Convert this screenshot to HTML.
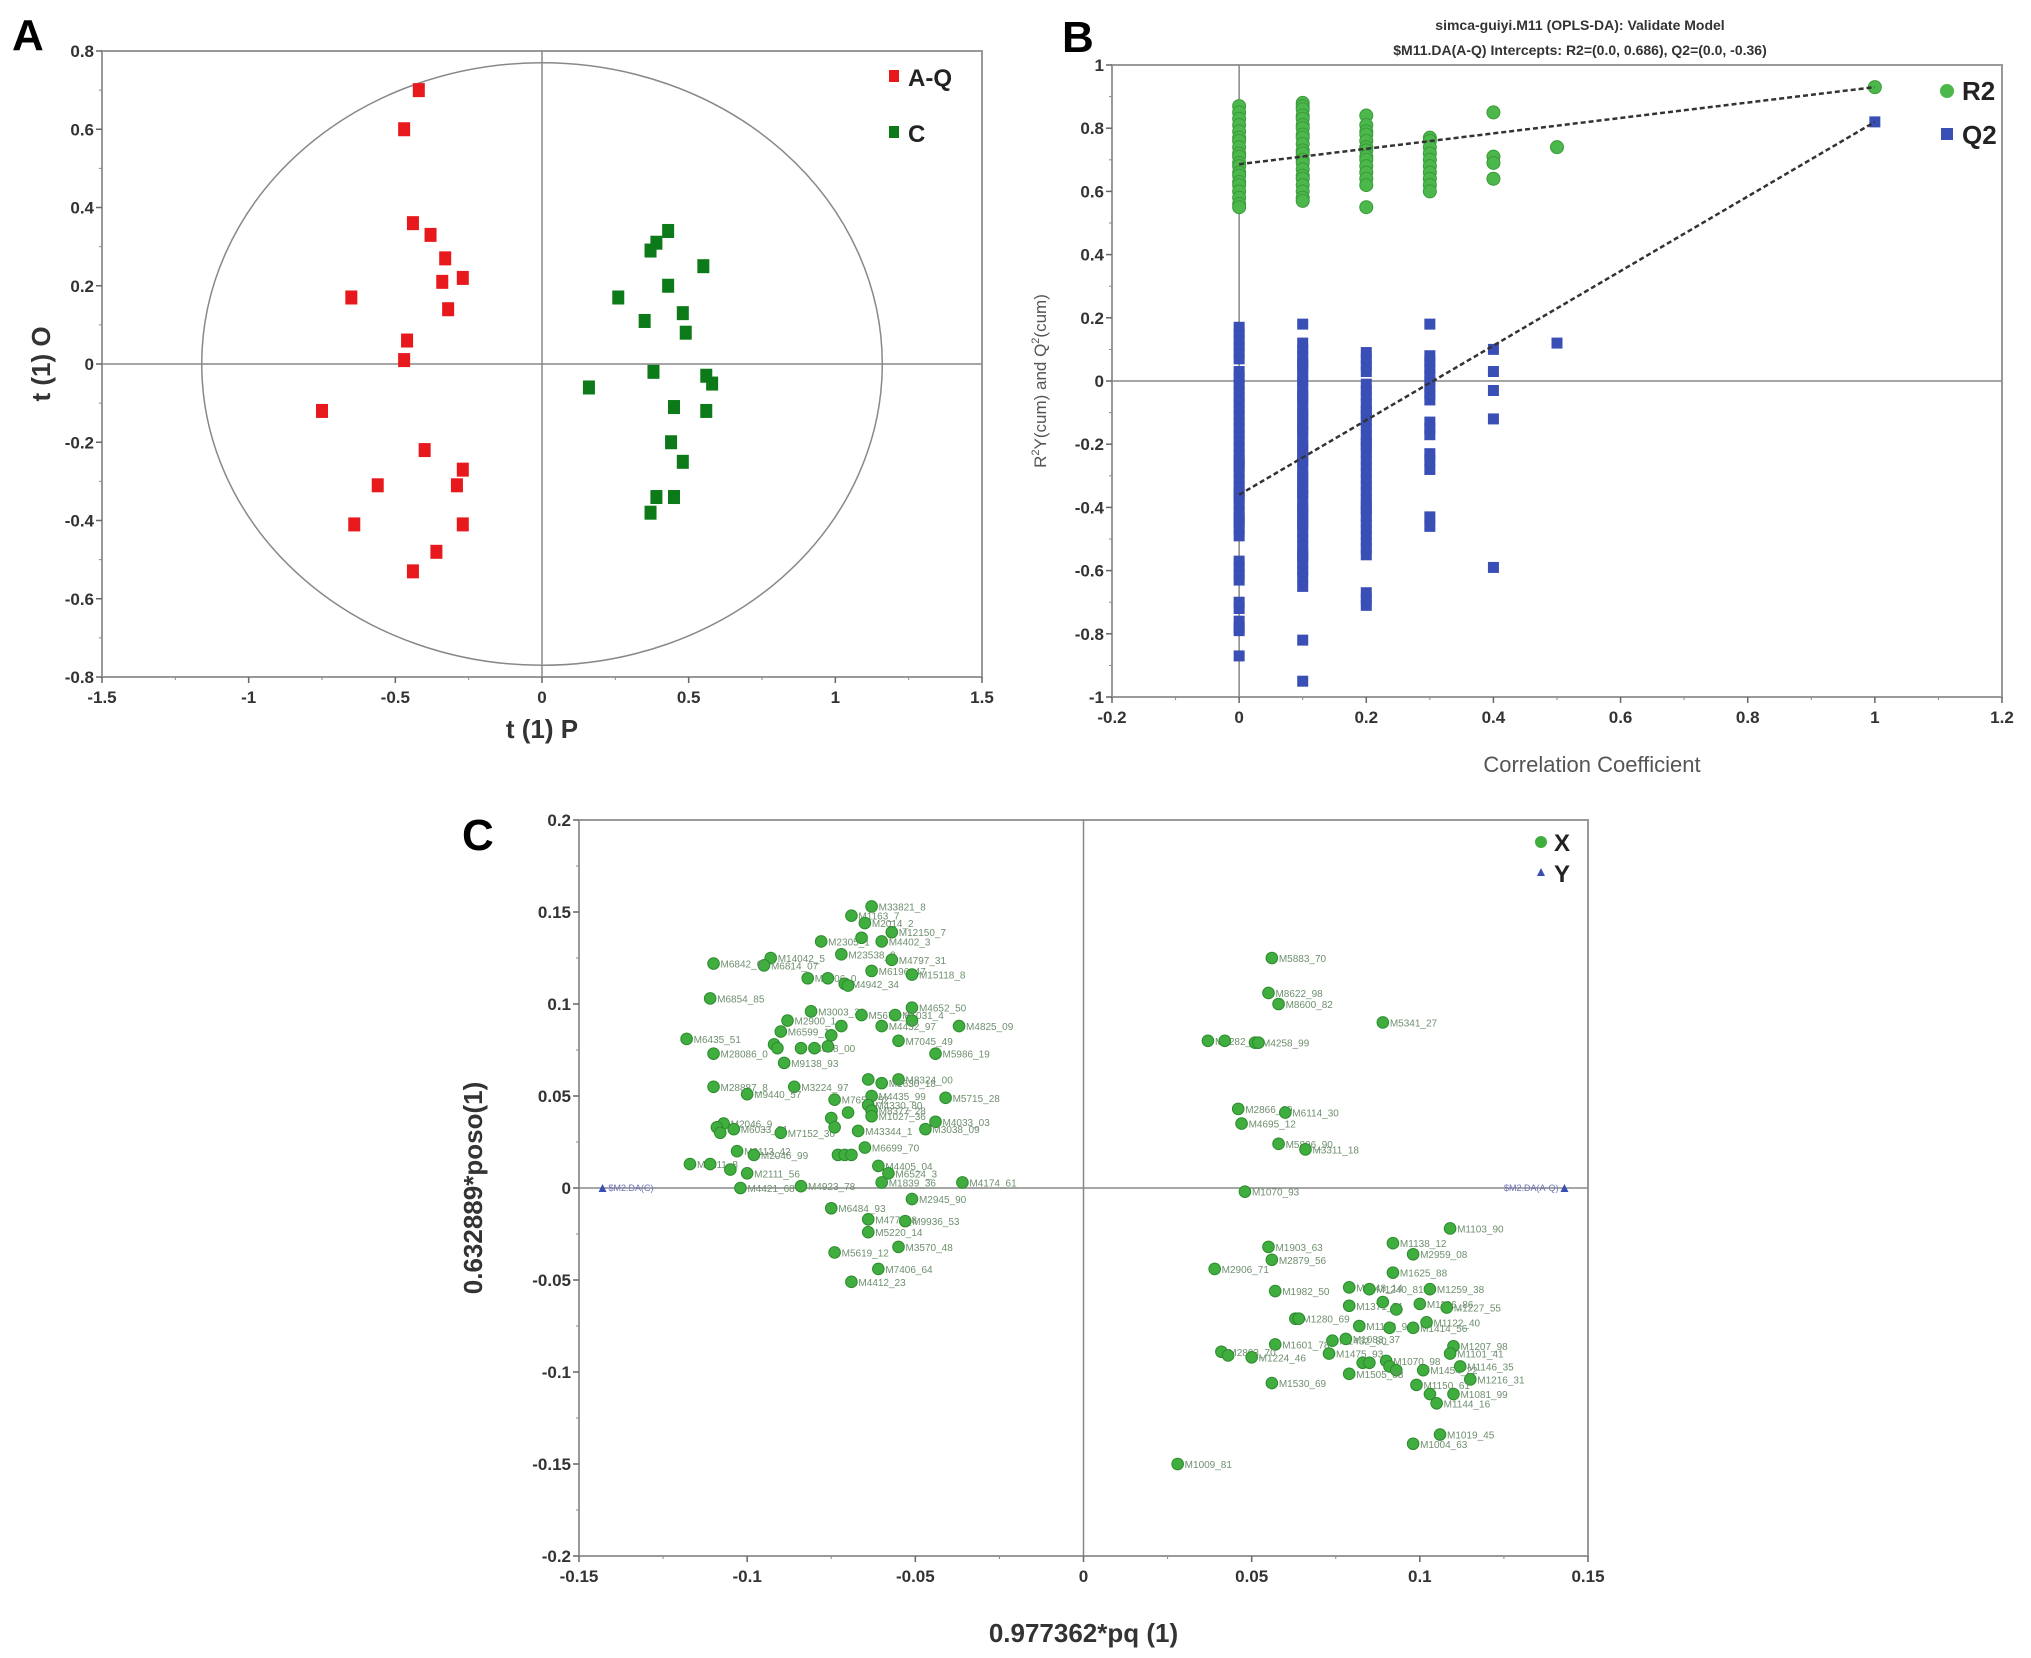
<!DOCTYPE html>
<html><head><meta charset="utf-8">
<style>
html,body{margin:0;padding:0;background:#fff;}
svg{display:block;font-family:"Liberation Sans",sans-serif;}
.tk{font-size:17px;font-weight:bold;fill:#333;}
.lbl{font-size:10px;fill:#6f8f6f;}
</style></head>
<body>
<svg id="root" width="2031" height="1658" viewBox="0 0 2031 1658">
  <text x="12" y="50" font-size="44" font-weight="bold">A</text>
  <text x="1062" y="52" font-size="44" font-weight="bold">B</text>
  <text x="462" y="850" font-size="44" font-weight="bold">C</text>
  <g id="pa"></g>
  <g id="pb"></g>
  <g id="pc"></g>
</svg>
<script>
// ---------- Panel A data ----------
const aqX = [-0.42,-0.47,-0.44,-0.38,-0.33,-0.27,-0.34,-0.65,-0.32,-0.46,-0.47,-0.75,-0.40,-0.27,-0.29,-0.56,-0.64,-0.27,-0.36,-0.44];
const aqY = [0.70,0.60,0.36,0.33,0.27,0.22,0.21,0.17,0.14,0.06,0.01,-0.12,-0.22,-0.27,-0.31,-0.31,-0.41,-0.41,-0.48,-0.53];
const cX = [0.43,0.39,0.37,0.55,0.43,0.26,0.48,0.35,0.49,0.16,0.38,0.56,0.58,0.45,0.56,0.44,0.48,0.39,0.45,0.37];
const cY = [0.34,0.31,0.29,0.25,0.20,0.17,0.13,0.11,0.08,-0.06,-0.02,-0.03,-0.05,-0.11,-0.12,-0.20,-0.25,-0.34,-0.34,-0.38];
const aXTicks = [-1.5,-1,-0.5,0,0.5,1,1.5];
const aYTicks = [0.8,0.6,0.4,0.2,0,-0.2,-0.4,-0.6,-0.8];
const aEllipse = [1.16,0.77];

// ---------- Panel B data ----------
const r2Perm = [0,0,0,0,0,0,0,0,0,0,0,0,0,0,0,0,0,0,0,0,0.1,0.1,0.1,0.1,0.1,0.1,0.1,0.1,0.1,0.1,0.1,0.1,0.1,0.1,0.1,0.1,0.1,0.1,0.1,0.1,0.1,0.2,0.2,0.2,0.2,0.2,0.2,0.2,0.2,0.2,0.2,0.2,0.2,0.2,0.2,0.3,0.3,0.3,0.3,0.3,0.3,0.3,0.3,0.3,0.3,0.4,0.4,0.4,0.4,0.5,1];
const r2Val = [0.87,0.85,0.83,0.81,0.79,0.77,0.76,0.74,0.72,0.71,0.69,0.68,0.66,0.65,0.63,0.62,0.60,0.58,0.56,0.55,0.88,0.87,0.86,0.84,0.83,0.81,0.80,0.78,0.77,0.75,0.73,0.72,0.70,0.69,0.67,0.65,0.64,0.62,0.60,0.58,0.57,0.84,0.81,0.79,0.78,0.76,0.74,0.73,0.71,0.70,0.68,0.66,0.64,0.62,0.55,0.77,0.76,0.74,0.72,0.70,0.68,0.66,0.64,0.62,0.60,0.85,0.71,0.69,0.64,0.74,0.93];
const q2Perm = [0,0,0,0,0,0,0,0,0,0,0,0,0,0,0,0,0,0,0,0,0,0,0,0,0,0,0,0,0,0,0,0,0,0,0,0,0,0,0,0,0,0,0,0,0,0,
 0.1,0.1,0.1,0.1,0.1,0.1,0.1,0.1,0.1,0.1,0.1,0.1,0.1,0.1,0.1,0.1,0.1,0.1,0.1,0.1,0.1,0.1,0.1,0.1,0.1,0.1,0.1,0.1,0.1,0.1,0.1,0.1,0.1,0.1,0.1,0.1,0.1,0.1,0.1,0.1,0.1,0.1,0.1,0.1,0.1,0.1,0.1,0.1,0.1,0.1,0.1,0.1,0.1,
 0.2,0.2,0.2,0.2,0.2,0.2,0.2,0.2,0.2,0.2,0.2,0.2,0.2,0.2,0.2,0.2,0.2,0.2,0.2,0.2,0.2,0.2,0.2,0.2,0.2,0.2,0.2,0.2,0.2,0.2,0.2,0.2,0.2,0.2,0.2,0.2,0.2,0.2,
 0.3,0.3,0.3,0.3,0.3,0.3,0.3,0.3,0.3,0.3,0.3,0.3,0.3,0.3,0.3,0.3,0.3,0.4,0.4,0.4,0.4,0.4,0.5,1];
const q2Val = [0.17,0.15,0.13,0.11,0.09,0.07,0.03,0.01,-0.01,-0.03,-0.05,-0.07,-0.09,-0.11,-0.13,-0.15,-0.19,-0.21,-0.23,-0.25,-0.27,-0.29,-0.31,-0.33,-0.35,-0.37,-0.39,-0.41,-0.43,-0.45,-0.47,-0.49,-0.57,-0.59,-0.61,-0.63,-0.70,-0.72,-0.76,-0.78,-0.79,-0.87,-0.44,-0.36,-0.26,-0.17,
 0.18,0.12,0.10,0.08,0.06,0.04,0.02,0.00,-0.02,-0.04,-0.06,-0.08,-0.10,-0.12,-0.14,-0.16,-0.18,-0.20,-0.22,-0.24,-0.26,-0.28,-0.30,-0.32,-0.34,-0.36,-0.38,-0.40,-0.42,-0.44,-0.46,-0.48,-0.50,-0.52,-0.54,-0.56,-0.58,-0.60,-0.62,-0.65,-0.82,-0.95,-0.25,-0.15,-0.05,0.05,-0.35,-0.45,-0.55,-0.41,-0.31,-0.21,-0.11,
 0.09,0.05,0.03,-0.01,-0.03,-0.05,-0.07,-0.09,-0.11,-0.13,-0.15,-0.17,-0.19,-0.21,-0.23,-0.25,-0.29,-0.31,-0.33,-0.35,-0.37,-0.39,-0.41,-0.43,-0.45,-0.47,-0.49,-0.51,-0.55,-0.67,-0.69,-0.71,-0.27,-0.20,-0.10,-0.40,-0.53,0.07,
 0.18,0.08,0.06,0.04,0.02,0.00,-0.02,-0.04,-0.06,-0.13,-0.15,-0.17,-0.23,-0.25,-0.28,-0.43,-0.46,0.10,0.03,-0.03,-0.12,-0.59,0.12,0.82];
const bFit = [[0,0.686,1,0.93],[0,-0.36,1,0.82]];
const bXTicks = [-0.2,0,0.2,0.4,0.6,0.8,1,1.2];
const bYTicks = [1,0.8,0.6,0.4,0.2,0,-0.2,-0.4,-0.6,-0.8,-1];

// ---------- Panel C data ----------
const cLoadX = [-0.063,-0.069,-0.065,-0.057,-0.060,-0.078,-0.066,-0.072,-0.057,-0.093,-0.095,-0.110,-0.063,-0.051,-0.082,-0.076,-0.071,-0.070,-0.111,-0.051,-0.081,-0.066,-0.056,-0.051,-0.088,-0.037,-0.072,-0.060,-0.090,-0.075,-0.118,-0.055,-0.092,-0.084,-0.080,-0.091,-0.076,-0.110,-0.044,-0.089,-0.064,-0.055,-0.060,-0.110,-0.086,-0.100,-0.063,-0.074,-0.041,-0.064,-0.063,-0.070,-0.063,-0.044,-0.107,-0.075,-0.109,-0.104,-0.108,-0.090,-0.067,-0.047,-0.074,-0.103,-0.098,-0.065,-0.073,-0.071,-0.069,-0.117,-0.111,-0.105,-0.100,-0.061,-0.058,-0.060,-0.036,-0.084,-0.102,-0.051,-0.075,-0.064,-0.053,-0.064,-0.074,-0.055,-0.061,-0.069,
 0.056,0.055,0.058,0.089,0.037,0.042,0.051,0.052,0.046,0.060,0.047,0.058,0.066,0.048,0.109,0.092,0.098,0.055,0.056,0.039,0.092,0.079,0.085,0.103,0.057,0.079,0.089,0.100,0.093,0.108,0.063,0.064,0.082,0.091,0.098,0.102,0.074,0.078,0.057,0.110,0.109,0.041,0.043,0.050,0.073,0.083,0.085,0.090,0.091,0.093,0.101,0.112,0.079,0.115,0.056,0.099,0.103,0.110,0.105,0.106,0.098,0.028];
const cLoadY = [0.153,0.148,0.144,0.139,0.134,0.134,0.136,0.127,0.124,0.125,0.121,0.122,0.118,0.116,0.114,0.114,0.111,0.110,0.103,0.098,0.096,0.094,0.094,0.091,0.091,0.088,0.088,0.088,0.085,0.083,0.081,0.080,0.078,0.076,0.076,0.076,0.077,0.073,0.073,0.068,0.059,0.059,0.057,0.055,0.055,0.051,0.050,0.048,0.049,0.045,0.042,0.041,0.039,0.036,0.035,0.038,0.033,0.032,0.030,0.030,0.031,0.032,0.033,0.020,0.018,0.022,0.018,0.018,0.018,0.013,0.013,0.010,0.008,0.012,0.008,0.003,0.003,0.001,0.000,-0.006,-0.011,-0.017,-0.018,-0.024,-0.035,-0.032,-0.044,-0.051,
 0.125,0.106,0.100,0.090,0.080,0.080,0.079,0.079,0.043,0.041,0.035,0.024,0.021,-0.002,-0.022,-0.030,-0.036,-0.032,-0.039,-0.044,-0.046,-0.054,-0.055,-0.055,-0.056,-0.064,-0.062,-0.063,-0.066,-0.065,-0.071,-0.071,-0.075,-0.076,-0.076,-0.073,-0.083,-0.082,-0.085,-0.086,-0.090,-0.089,-0.091,-0.092,-0.090,-0.095,-0.095,-0.094,-0.097,-0.099,-0.099,-0.097,-0.101,-0.104,-0.106,-0.107,-0.112,-0.112,-0.117,-0.134,-0.139,-0.150];
const cLoadLab = ["M33821_8","M1163_7","M2014_2","M12150_7","M4402_3","M2305_1","","M23538_8","M4797_31","M14042_5","M6814_07","M6842_6","M6196_47","M15118_8","M2906_0","","M4942_34","","M6854_85","M4652_50","M3003_31","M5676_8","M1031_4","","M2900_1","M4825_09","","M4432_97","M6599_1","","M6435_51","M7045_49","","M4628_00","","","","M28086_0","M5986_19","M9138_93","","M8324_00","M1630_18","M28887_8","M3224_97","M9440_57","M4435_99","M7651_52","M5715_28","M4330_80","M8377_28","","M1027_36","M4033_03","M2046_9","","","M6033_81","","M7152_30","M43344_1","M3038_09","","M6113_42","M2046_99","M6699_70","","","","M4211_8","","","M2111_56","M4405_04","M6524_3","M1839_36","M4174_61","M4923_78","M4421_68","M2945_90","M6484_93","M4778_8","M9936_53","M5220_14","M5619_12","M3570_48","M7406_64","M4412_23",
 "M5883_70","M8622_98","M8600_82","M5341_27","M1282_32","","M4258_99","","M2866_09","M6114_30","M4695_12","M5806_90","M3311_18","M1070_93","M1103_90","M1138_12","M2959_08","M1903_63","M2879_56","M2906_71","M1625_88","M1148_14","M1240_81","M1259_38","M1982_50","M1371_71","","M1186_86","","M1227_55","M1280_69","","M1103_96","","M1414_56","M1122_40","M1432_80","M1083_37","M1601_78","M1207_98","M1101_41","M2803_70","","M1224_46","M1475_93","","","M1070_98","","","M1454_22","M1146_35","M1505_83","M1216_31","M1530_69","M1150_61","","M1081_99","M1144_16","M1019_45","M1004_63","M1009_81"];
const cYVarX = [-0.143,0.143];
const cYVarY = [0,0];
const cYVarLab = ["$M2.DA(C)","$M2.DA(A-Q)"];
const cXTicks = [-0.15,-0.1,-0.05,0,0.05,0.1,0.15];
const cYTicks = [0.2,0.15,0.1,0.05,0,-0.05,-0.1,-0.15,-0.2];

const NS = "http://www.w3.org/2000/svg";
function mk(parent, tag, attrs, text){
  const e = document.createElementNS(NS, tag);
  for (const k in attrs) e.setAttribute(k, attrs[k]);
  if (text !== undefined) e.textContent = text;
  parent.appendChild(e);
  return e;
}
function lin(d0,d1,r0,r1){ return v => r0 + (v-d0)/(d1-d0)*(r1-r0); }

function frame(g, L, T, R, B, sx, sy, xt, yt, xdec, ydec){
  const box = mk(g,'rect',{x:L,y:T,width:R-L,height:B-T,fill:'none',stroke:'#999','stroke-width':2});
  
  
  const zx = mk(g,'line',{x1:sx(0),x2:sx(0),y1:T,y2:B,stroke:'#888','stroke-width':1.5});
  
  
  const zy = mk(g,'line',{x1:L,x2:R,y1:sy(0),y2:sy(0),stroke:'#888','stroke-width':1.5});
  
  
  xt.forEach((v,i)=>{
    const x=sx(v);
    mk(g,'line',{x1:x,x2:x,y1:B,y2:B+6,stroke:'#666','stroke-width':1.5});
    if(i<xt.length-1){ const xm=sx(v+(xt[1]-xt[0])/2); mk(g,'line',{x1:xm,x2:xm,y1:B,y2:B+3,stroke:'#888'}); }
    const t=mk(g,'text',{x:x,y:B+26,'text-anchor':'middle','class':'tk'},String(v));
    
    
  });
  yt.forEach((v,i)=>{
    const y=sy(v);
    mk(g,'line',{x1:L-6,x2:L,y1:y,y2:y,stroke:'#666','stroke-width':1.5});
    if(i<yt.length-1){ const ym=sy(v+(yt[1]-yt[0])/2); mk(g,'line',{x1:L-3,x2:L,y1:ym,y2:ym,stroke:'#888'}); }
    const t=mk(g,'text',{x:L-8,y:y+6,'text-anchor':'end','class':'tk'},String(v));
    
    
  });
}

// ---------- Panel A ----------
(function(){
  const g=document.getElementById('pa');
  const L=102,R=982,T=51,B=677;
  const sx=lin(-1.5,1.5,L,R), sy=lin(0.8,-0.8,T,B);
  frame(g,L,T,R,B,sx,sy,aXTicks,aYTicks);
  const el=mk(g,'ellipse',{cx:sx(0),cy:sy(0),rx:sx(aEllipse[0])-sx(0),ry:sy(0)-sy(aEllipse[1]),fill:'none',stroke:'#888','stroke-width':1.5});
  
  
  aqX.forEach((v,i)=>{
    const r=mk(g,'rect',{x:sx(v)-6,y:sy(aqY[i])-7,width:12,height:14,fill:'#e8191c'});
    
    
  });
  cX.forEach((v,i)=>{
    const r=mk(g,'rect',{x:sx(v)-6,y:sy(cY[i])-7,width:12,height:14,fill:'#0d7a1a'});
    
    
  });
  mk(g,'rect',{x:889,y:70,width:10,height:12,fill:'#e8191c',});
  mk(g,'text',{x:908,y:86,'font-size':24,'font-weight':'bold',fill:'#222',},'A-Q');
  mk(g,'rect',{x:889,y:126,width:10,height:12,fill:'#0d7a1a',});
  mk(g,'text',{x:908,y:142,'font-size':24,'font-weight':'bold',fill:'#222',},'C');
  mk(g,'text',{x:(L+R)/2,y:738,'text-anchor':'middle','font-size':26,'font-weight':'bold',fill:'#333',},'t (1) P');
  mk(g,'text',{x:0,y:0,transform:'translate(50,'+((T+B)/2)+') rotate(-90)','text-anchor':'middle','font-size':26,'font-weight':'bold',fill:'#333',},'t (1) O');
})();

// ---------- Panel B ----------
(function(){
  const g=document.getElementById('pb');
  const L=1112,R=2002,T=65,B=697;
  const sx=lin(-0.2,1.2,L,R), sy=lin(1,-1,T,B);
  frame(g,L,T,R,B,sx,sy,bXTicks,bYTicks);
  mk(g,'text',{x:1580,y:30,'text-anchor':'middle','font-size':14,'font-weight':'bold',fill:'#333',},'simca-guiyi.M11 (OPLS-DA): Validate Model');
  mk(g,'text',{x:1580,y:55,'text-anchor':'middle','font-size':14,'font-weight':'bold',fill:'#333',},'$M11.DA(A-Q) Intercepts: R2=(0.0, 0.686), Q2=(0.0, -0.36)');
  r2Perm.forEach((v,i)=>{
    const c=mk(g,'circle',{cx:sx(v),cy:sy(r2Val[i]),r:6.5,fill:'#4cb84c',stroke:'#3a9a3a','stroke-width':1});
    
    
  });
  q2Perm.forEach((v,i)=>{
    const r=mk(g,'rect',{x:sx(v)-5.5,y:sy(q2Val[i])-5.5,width:11,height:11,fill:'#3a4fb5'});
    
    
  });
  bFit.forEach((f,i)=>{
    const l=mk(g,'line',{x1:sx(f[0]),y1:sy(f[1]),x2:sx(f[2]),y2:sy(f[3]),stroke:'#333','stroke-width':2.5,'stroke-dasharray':'5,3'});
    
    
  });
  mk(g,'circle',{cx:1947,cy:91,r:7,fill:'#4cb84c',});
  mk(g,'text',{x:1962,y:100,'font-size':26,'font-weight':'bold',fill:'#222',},'R2');
  mk(g,'rect',{x:1941,y:128,width:12,height:12,fill:'#3a4fb5',});
  mk(g,'text',{x:1962,y:144,'font-size':26,'font-weight':'bold',fill:'#222',},'Q2');
  mk(g,'text',{x:1592,y:772,'text-anchor':'middle','font-size':22,fill:'#555',},'Correlation Coefficient');
  const yt=mk(g,'text',{x:0,y:0,transform:'translate(1046,'+((T+B)/2)+') rotate(-90)','text-anchor':'middle','font-size':17,fill:'#555',});
  yt.innerHTML='R<tspan dy="-7" font-size="11">2</tspan><tspan dy="7">Y(cum) and Q</tspan><tspan dy="-7" font-size="11">2</tspan><tspan dy="7">(cum)</tspan>';
})();

// ---------- Panel C ----------
(function(){
  const g=document.getElementById('pc');
  const L=579,R=1588,T=820,B=1556;
  const sx=lin(-0.15,0.15,L,R), sy=lin(0.2,-0.2,T,B);
  frame(g,L,T,R,B,sx,sy,cXTicks,cYTicks);
  cLoadX.forEach((v,i)=>{
    const x=sx(v), y=sy(cLoadY[i]);
    const c=mk(g,'circle',{cx:x,cy:y,r:5.8,fill:'#3fae3f',stroke:'#2d8a2d','stroke-width':1});
    
    
    if(cLoadLab[i]){
      const t=mk(g,'text',{x:x+7,y:y+4,'class':'lbl'},cLoadLab[i]);
      
      
    }
  });
  cYVarX.forEach((v,i)=>{
    const x=sx(v), y=sy(cYVarY[i]);
    const p=mk(g,'path',{d:'M'+(x-4)+' '+(y+4)+' L'+x+' '+(y-4)+' L'+(x+4)+' '+(y+4)+' Z',fill:'#3a4fb5'});
    
    
    const t=mk(g,'text',{x:i===0?x+6:x-6,y:y+3,'font-size':9,fill:'#6a72b8','text-anchor':i===0?'start':'end'},cYVarLab[i]);
    
    
  });
  mk(g,'circle',{cx:1541,cy:842,r:6,fill:'#3fae3f',});
  mk(g,'text',{x:1554,y:851,'font-size':24,'font-weight':'bold',fill:'#222',},'X');
  mk(g,'path',{d:'M1537 876 L1541 868 L1545 876 Z',fill:'#3a4fb5',});
  mk(g,'text',{x:1554,y:882,'font-size':24,'font-weight':'bold',fill:'#222',},'Y');
  mk(g,'text',{x:(L+R)/2,y:1642,'text-anchor':'middle','font-size':26,'font-weight':'bold',fill:'#333',},'0.977362*pq (1)');
  mk(g,'text',{x:0,y:0,transform:'translate(482,'+((T+B)/2)+') rotate(-90)','text-anchor':'middle','font-size':26,'font-weight':'bold',fill:'#333',},'0.632889*poso(1)');
})();
</script>
</body></html>
